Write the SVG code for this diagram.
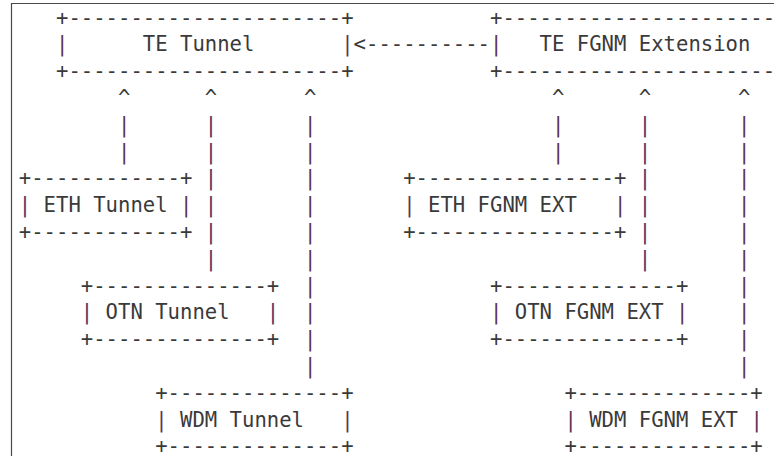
<svg xmlns="http://www.w3.org/2000/svg" width="774" height="456" viewBox="0 0 774 456" xml:space="preserve">
<style>
text{font-family:"DejaVu Sans Mono","Liberation Mono",monospace;font-size:20.6px;fill:#3a3a3a;white-space:pre}
.p{fill:#5e3356}
.frame{stroke:#4a4a4a;stroke-width:1.2;fill:none}
</style>
<rect width="774" height="456" fill="#ffffff"/>
<path class="frame" d="M11.5,456 V3.5 H774"/>

<g id="te-tunnel">
<text x="56.0" y="24.5">+----------------------+</text>
<text class="p" x="56.0" y="51.3">|</text>
<text x="142.8" y="51.3">TE Tunnel</text>
<text class="p" x="341.2" y="51.3">|</text>
<text x="56.0" y="78.1">+----------------------+</text>
</g>

<g id="te-fgnm-extension">
<text x="490.0" y="24.5">+----------------------</text>
<text class="p" x="490.0" y="51.3">|</text>
<text x="539.6" y="51.3">TE FGNM Extension</text>
<text x="490.0" y="78.1">+----------------------</text>
</g>

<g id="eth-tunnel">
<text x="18.8" y="185.3">+------------+</text>
<text class="p" x="18.8" y="212.1">|</text>
<text x="43.6" y="212.1">ETH Tunnel</text>
<text class="p" x="180.0" y="212.1">|</text>
<text x="18.8" y="238.9">+------------+</text>
</g>

<g id="otn-tunnel">
<text x="80.8" y="292.5">+--------------+</text>
<text class="p" x="80.8" y="319.3">|</text>
<text x="105.6" y="319.3">OTN Tunnel</text>
<text class="p" x="266.8" y="319.3">|</text>
<text x="80.8" y="346.1">+--------------+</text>
</g>

<g id="wdm-tunnel">
<text x="155.2" y="399.7">+--------------+</text>
<text class="p" x="155.2" y="426.5">|</text>
<text x="180.0" y="426.5">WDM Tunnel</text>
<text class="p" x="341.2" y="426.5">|</text>
<text x="155.2" y="453.3">+--------------+</text>
</g>

<g id="eth-fgnm-ext">
<text x="403.2" y="185.3">+----------------+</text>
<text class="p" x="403.2" y="212.1">|</text>
<text x="428.0" y="212.1">ETH FGNM EXT</text>
<text class="p" x="614.0" y="212.1">|</text>
<text x="403.2" y="238.9">+----------------+</text>
</g>

<g id="otn-fgnm-ext">
<text x="490.0" y="292.5">+--------------+</text>
<text class="p" x="490.0" y="319.3">|</text>
<text x="514.8" y="319.3">OTN FGNM EXT</text>
<text class="p" x="676.0" y="319.3">|</text>
<text x="490.0" y="346.1">+--------------+</text>
</g>

<g id="wdm-fgnm-ext">
<text x="564.4" y="399.7">+--------------+</text>
<text class="p" x="564.4" y="426.5">|</text>
<text x="589.2" y="426.5">WDM FGNM EXT</text>
<text class="p" x="750.4" y="426.5">|</text>
<text x="564.4" y="453.3">+--------------+</text>
</g>

<g id="connectors">
<text x="353.6" y="51.3">&lt;----------</text>
<g id="c-eth">
<text x="118.0" y="104.9">^</text>
<text class="p" x="118.0" y="131.7">|</text>
<text class="p" x="118.0" y="158.5">|</text>
</g>
<g id="c-otn">
<text x="204.8" y="104.9">^</text>
<text class="p" x="204.8" y="131.7">|</text>
<text class="p" x="204.8" y="158.5">|</text>
<text class="p" x="204.8" y="185.3">|</text>
<text class="p" x="204.8" y="212.1">|</text>
<text class="p" x="204.8" y="238.9">|</text>
<text class="p" x="204.8" y="265.7">|</text>
</g>
<g id="c-wdm">
<text x="304.0" y="104.9">^</text>
<text class="p" x="304.0" y="131.7">|</text>
<text class="p" x="304.0" y="158.5">|</text>
<text class="p" x="304.0" y="185.3">|</text>
<text class="p" x="304.0" y="212.1">|</text>
<text class="p" x="304.0" y="238.9">|</text>
<text class="p" x="304.0" y="265.7">|</text>
<text class="p" x="304.0" y="292.5">|</text>
<text class="p" x="304.0" y="319.3">|</text>
<text class="p" x="304.0" y="346.1">|</text>
<text class="p" x="304.0" y="372.9">|</text>
</g>
<g id="c-eth-ext">
<text x="552.0" y="104.9">^</text>
<text class="p" x="552.0" y="131.7">|</text>
<text class="p" x="552.0" y="158.5">|</text>
</g>
<g id="c-otn-ext">
<text x="638.8" y="104.9">^</text>
<text class="p" x="638.8" y="131.7">|</text>
<text class="p" x="638.8" y="158.5">|</text>
<text class="p" x="638.8" y="185.3">|</text>
<text class="p" x="638.8" y="212.1">|</text>
<text class="p" x="638.8" y="238.9">|</text>
<text class="p" x="638.8" y="265.7">|</text>
</g>
<g id="c-wdm-ext">
<text x="738.0" y="104.9">^</text>
<text class="p" x="738.0" y="131.7">|</text>
<text class="p" x="738.0" y="158.5">|</text>
<text class="p" x="738.0" y="185.3">|</text>
<text class="p" x="738.0" y="212.1">|</text>
<text class="p" x="738.0" y="238.9">|</text>
<text class="p" x="738.0" y="265.7">|</text>
<text class="p" x="738.0" y="292.5">|</text>
<text class="p" x="738.0" y="319.3">|</text>
<text class="p" x="738.0" y="346.1">|</text>
<text class="p" x="738.0" y="372.9">|</text>
</g>
</g>
</svg>
